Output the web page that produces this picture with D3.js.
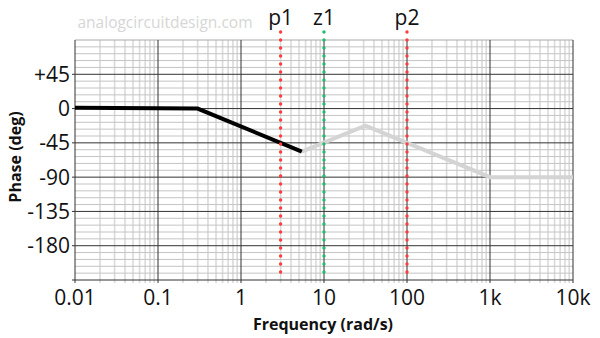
<!DOCTYPE html>
<html><head><meta charset="utf-8">
<script src="https://cdn.jsdelivr.net/npm/d3@7"></script>
<style>body{margin:0;background:#fff;}svg{display:block;font-family:"Open Sans",sans-serif;}</style>
</head><body>
<svg id="c" width="600" height="338"></svg>
<script>
// data
const xTickValues = [0.01, 0.1, 1, 10, 100, 1000, 10000];
const xTickLabels = ["0.01", "0.1", "1", "10", "100", "1k", "10k"];
const yTickValues = [45, 0, -45, -90, -135, -180];
const yTickLabels = ["+45", "0", "-45", "-90", "-135", "-180"];
const blackFreq = [0.01, 0.3, 5.4];
const blackPhase = [1, 0, -56.5];
const grayFreq = [5.4, 31.6, 1000, 10000];
const grayPhase = [-56.5, -22.5, -90, -90];
const markerLabels = ["p1", "z1", "p2"];
const markerFreqs = [3, 10, 100];
const markerColors = ["#ff3b3b", "#1dbf6a", "#ff3b3b"];

const svg = d3.select("#c");
const L = 75, R = 573, T = 40, B = 280;
const x = d3.scaleLog().domain([0.01, 10000]).range([L, R]);
const y = d3.scaleLinear().domain([90, -225]).range([T, B]);

// watermark
svg.append("text").attr("x", 165).attr("y", 28).attr("text-anchor", "middle")
  .attr("font-size", 15.5).attr("fill", "#d6d6d6").text("analogcircuitdesign.com");

const g = svg.append("g");
// minor vertical
const minorX = [];
for (let d = -2; d < 4; d++) for (let k = 2; k <= 9; k++) minorX.push(k * Math.pow(10, d));
g.selectAll(".mx").data(minorX).enter().append("line")
  .attr("x1", d => x(d)).attr("x2", d => x(d)).attr("y1", T).attr("y2", B + 3)
  .attr("stroke", "#dadada").attr("stroke-width", 1.6);
// minor horizontal
const minorY = d3.range(-225, 91, 9).filter(v => v % 45 !== 0);
g.selectAll(".my").data(minorY).enter().append("line")
  .attr("x1", L).attr("x2", R).attr("y1", d => y(d)).attr("y2", d => y(d))
  .attr("stroke", "#c4c4c4").attr("stroke-width", 1);
// top border
g.append("line").attr("x1", L).attr("x2", R).attr("y1", T).attr("y2", T).attr("stroke", "#aaa");
// major vertical
g.selectAll(".Mx").data(xTickValues).enter().append("line")
  .attr("x1", d => x(d)).attr("x2", d => x(d)).attr("y1", T).attr("y2", B + 3)
  .attr("stroke", "#333").attr("stroke-width", 1);
// major horizontal
g.selectAll(".My").data(yTickValues.concat([-225])).enter().append("line")
  .attr("x1", L - 3).attr("x2", R).attr("y1", d => y(d)).attr("y2", d => y(d))
  .attr("stroke", "#333").attr("stroke-width", 1);

// tick labels
svg.selectAll(".yl").data(yTickValues).enter().append("text")
  .attr("x", 70).attr("y", d => y(d)).attr("dy", "0.36em").attr("text-anchor", "end")
  .attr("font-size", 21).attr("fill", "#111").text((d, i) => yTickLabels[i]);
svg.selectAll(".xl").data(xTickValues).enter().append("text")
  .attr("x", d => x(d)).attr("y", 305).attr("text-anchor", "middle")
  .attr("font-size", 21).attr("fill", "#111").text((d, i) => xTickLabels[i]);

// titles
svg.append("text").attr("x", 323).attr("y", 330).attr("text-anchor", "middle")
  .attr("font-size", 16).attr("font-weight", "bold").attr("fill", "#111").text("Frequency (rad/s)");
svg.append("text").attr("transform", "translate(21,157) rotate(-90)").attr("text-anchor", "middle")
  .attr("font-size", 16).attr("font-weight", "bold").attr("fill", "#111").text("Phase (deg)");

// lines
const line = d3.line().x(d => x(d[0])).y(d => y(d[1]));
svg.append("path").datum(grayFreq.map((f, i) => [f, grayPhase[i]])).attr("d", line)
  .attr("fill", "none").attr("stroke", "#d4d4d4").attr("stroke-width", 4);
svg.append("path").datum(blackFreq.map((f, i) => [f, blackPhase[i]])).attr("d", line)
  .attr("fill", "none").attr("stroke", "#000").attr("stroke-width", 4);

// markers
markerFreqs.forEach((f, i) => {
  svg.append("line").attr("x1", x(f)).attr("x2", x(f)).attr("y1", 32).attr("y2", 273)
    .attr("stroke", markerColors[i]).attr("stroke-width", 3.4)
    .attr("stroke-linecap", "round").attr("stroke-dasharray", "0 8");
  svg.append("text").attr("x", x(f)).attr("y", 25).attr("text-anchor", "middle")
    .attr("font-size", 21).attr("fill", "#111").text(markerLabels[i]);
});
</script>
</body></html>
